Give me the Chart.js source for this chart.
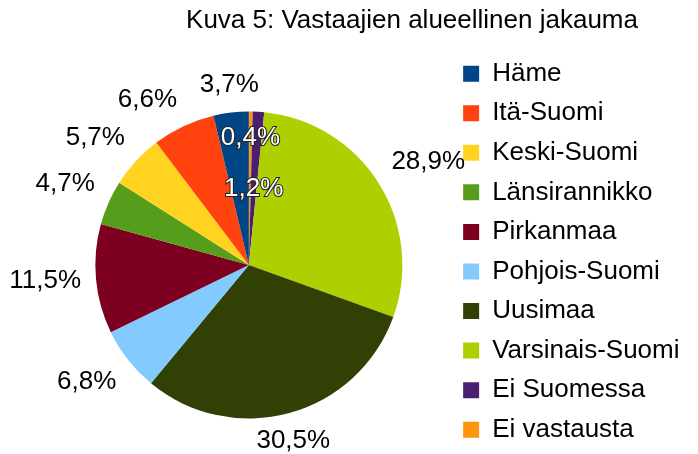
<!DOCTYPE html>
<html lang="fi">
<head>
<meta charset="utf-8">
<title>Kuva 5: Vastaajien alueellinen jakauma</title>
<script src="https://cdn.jsdelivr.net/npm/chart.js@4.4.1/dist/chart.umd.min.js"></script>
<style>
  html, body { margin: 0; padding: 0; background: #fff; }
  #grafico { width: 698px; height: 454px; }
</style>
</head>
<body>
<div id="grafico"><canvas id="miGrafico" width="698" height="454"></canvas></div>
<script>
// datos
const otsikko = 'Kuva 5: Vastaajien alueellinen jakauma';
const alueet = ['Häme', 'Itä-Suomi', 'Keski-Suomi', 'Länsirannikko', 'Pirkanmaa',
  'Pohjois-Suomi', 'Uusimaa', 'Varsinais-Suomi', 'Ei Suomessa', 'Ei vastausta'];
const osuudet = [3.7, 6.6, 5.7, 4.7, 11.5, 6.8, 30.5, 28.9, 1.2, 0.4];
const varit = ['#004586', '#ff420e', '#ffd320', '#579d1c', '#7e0021',
  '#83caff', '#314004', '#aecf00', '#4b1f6f', '#ff950e'];

// LibreOffice draws the pie counter-clockwise, Chart.js clockwise -> reverse
const kategoriat = alueet.slice().reverse();
const arvot = osuudet.slice().reverse();
const fondos = varit.slice().reverse();

const FUENTE = '"Liberation Sans", Arial, sans-serif';
const TAM = 26;
Chart.defaults.font.family = FUENTE;
Chart.defaults.font.size = TAM;
Chart.defaults.color = '#000';

const fmt = v => v.toFixed(1).replace('.', ',') + '%';

// etiquetas de porcentaje alrededor de la tarta
const etiquetas = {
  id: 'etiquetas',
  afterDatasetsDraw(chart) {
    const ctx = chart.ctx;
    const meta = chart.getDatasetMeta(0);
    const dentro = [0.83, 0.5]; // small slices get their label inside
    let k = 0;
    ctx.save();
    ctx.font = TAM + 'px ' + FUENTE;
    meta.data.forEach((arc, i) => {
      const {x, y, startAngle, endAngle, outerRadius} = arc.getProps(['x', 'y', 'startAngle', 'endAngle', 'outerRadius'], true);
      const mid = (startAngle + endAngle) / 2;
      const texto = fmt(arvot[i]);
      if (arvot[i] < 2) {
        const r = outerRadius * dentro[k++];
        const px = x + Math.cos(mid) * r, py = y + Math.sin(mid) * r;
        ctx.textAlign = 'center';
        ctx.textBaseline = 'middle';
        ctx.lineWidth = 2;
        ctx.strokeStyle = '#222';
        ctx.strokeText(texto, px, py);
        ctx.fillStyle = '#fff';
        ctx.fillText(texto, px, py);
        return;
      }
      const r = outerRadius + 15;
      const px = x + Math.cos(mid) * r, py = y + Math.sin(mid) * r;
      let deg = (mid * 180 / Math.PI + 90) % 360;
      if (deg < 0) deg += 360;
      const sector = Math.round(deg / 45) % 8;
      ctx.textAlign = ['center', 'left', 'left', 'left', 'center', 'right', 'right', 'right'][sector];
      ctx.textBaseline = ['bottom', 'bottom', 'middle', 'top', 'top', 'top', 'middle', 'bottom'][sector];
      ctx.fillStyle = '#000';
      ctx.fillText(texto, px, py);
    });
    ctx.restore();
  }
};

// titulo
const titulo = {
  id: 'titulo',
  afterDraw(chart) {
    const ctx = chart.ctx;
    ctx.save();
    ctx.font = TAM + 'px ' + FUENTE;
    ctx.fillStyle = '#000';
    ctx.textAlign = 'center';
    ctx.textBaseline = 'alphabetic';
    ctx.fillText(otsikko, 412, 28);
    ctx.restore();
  }
};

// the pie sits a little lower than the legend block
const centrado = {
  id: 'centrado',
  afterLayout(chart) {
    chart.chartArea.top += 14.5;
    chart.chartArea.bottom += 14.5;
  }
};

const ctx = document.getElementById('miGrafico').getContext('2d');
new Chart(ctx, {
  type: 'pie',
  data: {
    labels: kategoriat,
    datasets: [{
      data: arvot,
      backgroundColor: fondos,
      borderWidth: 0,
      hoverOffset: 0,
      radius: 153.5
    }]
  },
  options: {
    responsive: false,
    animation: false,
    layout: {
      // negative bottom only stretches the legend column so it stays in one column
      padding: {top: 47.1, bottom: -30, left: 48.1, right: 8.5}
    },
    plugins: {
      title: {display: false},
      tooltip: {enabled: false},
      legend: {
        position: 'right',
        align: 'start',
        reverse: true,
        labels: {
          boxWidth: 16,
          boxHeight: 16,
          padding: 13.56,
          color: '#000',
          font: {size: TAM, family: FUENTE}
        }
      }
    }
  },
  plugins: [centrado, etiquetas, titulo]
});
</script>
</body>
</html>
